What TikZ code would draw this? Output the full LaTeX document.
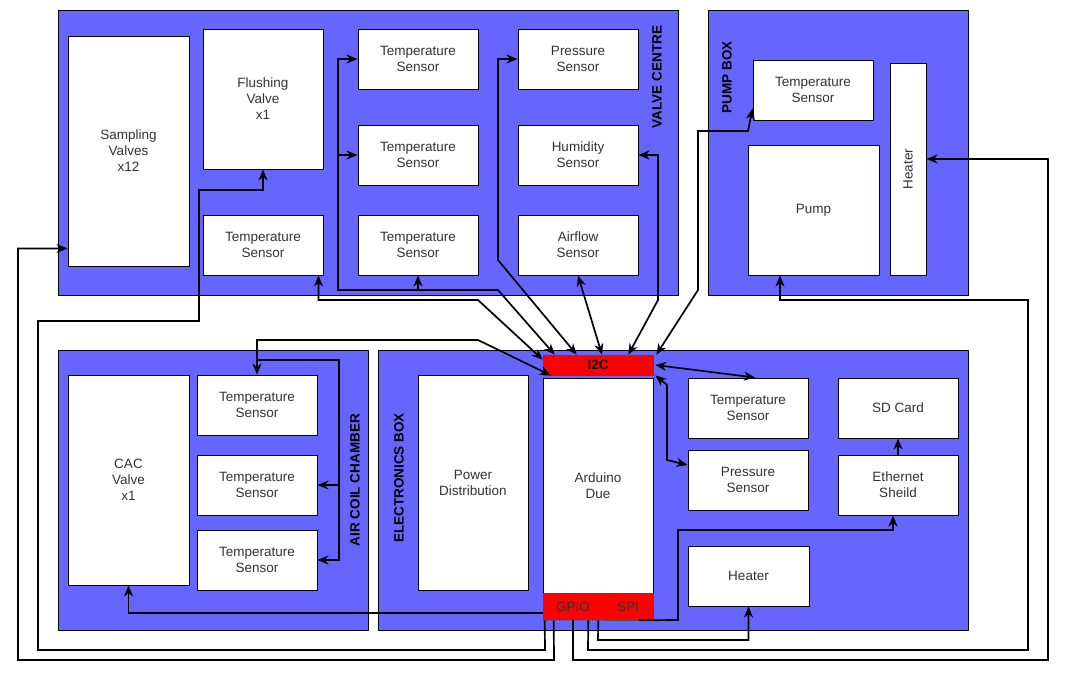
\documentclass[tikz,border=0pt]{standalone}
\usepackage{fontspec}
\setmainfont{Liberation Sans}
\usetikzlibrary{arrows.meta, calc}
\definecolor{boxblue}{HTML}{6666FF}
\definecolor{txt}{HTML}{333333}
\tikzstyle{container} = [rectangle, fill=boxblue, draw=black, line width=1pt, inner sep=0pt]
\tikzstyle{part} = [rectangle, fill=white, draw=black, line width=1pt, inner sep=0pt, align=center, text=txt, minimum width=120pt, minimum height=60pt]
\tikzstyle{boxlabel} = [rotate=90, text=black, font=\fontsize{13.5}{16}\selectfont\bfseries]
\tikzstyle{port} = [rectangle, fill=red, draw=black!70, line width=.6pt, inner sep=0pt, text=txt]
\tikzstyle{arrow} = [line width=1.7pt, ->, >={Stealth[length=11pt,width=9pt,inset=3.5pt]}]
\tikzstyle{biarrow} = [arrow, <->]

\begin{document}
\begin{tikzpicture}[x=1pt, y=-1pt, font=\fontsize{13.5}{16}\selectfont]
\useasboundingbox (0,0) rectangle (1068,680);

%Valve centre
\node(VC) at (368,152.5)[container, minimum width=620pt, minimum height=285pt]{};
\node at (657,77)[boxlabel]{VALVE CENTRE};
\node(sampling) at (128.5,151)[part, minimum width=121pt, minimum height=230pt]{Sampling\\Valves\\x12};
\node(flushing) at (263,99)[part, minimum height=140pt]{Flushing\\Valve\\x1};
\node(vcTempA) at (263,245)[part]{Temperature\\Sensor};
\node(vcTempB) at (418,59)[part]{Temperature\\Sensor};
\node(vcTempC) at (418,155)[part]{Temperature\\Sensor};
\node(vcTempD) at (418,245)[part]{Temperature\\Sensor};
\node(vcPres) at (578,59)[part]{Pressure\\Sensor};
\node(vcHum) at (578,155)[part]{Humidity\\Sensor};
\node(vcAir) at (578,245)[part]{Airflow\\Sensor};

%Pump box
\node(PB) at (838,152.5)[container, minimum width=260pt, minimum height=285pt]{};
\node at (727,77)[boxlabel]{PUMP BOX};
\node(pbTemp) at (813,90)[part]{Temperature\\Sensor};
\node(pump) at (813.5,210)[part, minimum width=131pt, minimum height=130pt]{Pump};
\node(pbHeater) at (908,169)[part, minimum width=36pt, minimum height=212pt]{};
\node at (pbHeater)[rotate=90, text=txt]{Heater};

%Air coil chamber
\node(ACC) at (213,490)[container, minimum width=310pt, minimum height=280pt]{};
\node at (355,480)[boxlabel]{AIR COIL CHAMBER};
\node(cac) at (128.5,480)[part, minimum width=121pt, minimum height=210pt]{CAC\\Valve\\x1};
\node(accTempA) at (257,405)[part]{Temperature\\Sensor};
\node(accTempB) at (257,485)[part]{Temperature\\Sensor};
\node(accTempC) at (257,560)[part]{Temperature\\Sensor};

%Electronics box
\node(EB) at (673,490)[container, minimum width=590pt, minimum height=280pt]{};
\node at (399,478)[boxlabel]{ELECTRONICS BOX};
\node(power) at (473,482.5)[part, minimum width=110pt, minimum height=215pt]{Power\\Distribution};
\node(arduino) at (598,485.5)[part, minimum width=110pt, minimum height=215pt]{Arduino\\Due};
\node(i2c) at (598,365)[port, minimum width=110pt, minimum height=20pt, text=black, font=\fontsize{13.5}{16}\selectfont\bfseries]{I2C};
\node(gpio) at (573,606.5)[port, minimum width=60pt, minimum height=27pt, dotted]{GPIO};
\node(spi) at (628,606.5)[port, minimum width=50pt, minimum height=27pt]{SPI};
\node(ebTemp) at (748,408)[part]{Temperature\\Sensor};
\node(ebPres) at (748,480)[part]{Pressure\\Sensor};
\node(sd) at (898,408)[part]{SD Card};
\node(eth) at (898,485)[part]{Ethernet\\Sheild};
\node(ebHeater) at (748.5,576)[part, minimum width=121pt]{Heater};

%I2C to valve centre
\draw[biarrow] ($(vcTempA.south east)+(-5,0)$) |- (478,300) -- ($(i2c.north west)+(0,5)$);
\coordinate(vcBus) at (338,290);
\draw[biarrow] ($(i2c.north west)+(12,0)$) -- (498,290) -- (vcBus) |- (vcTempB.west);
\draw[arrow] (vcBus) |- (vcTempC.west);
\draw[arrow] (vcTempD.south |- vcBus) -- (vcTempD.south);
\draw[biarrow] ($(i2c.north west)+(34,0)$) -- (498,260) |- (vcPres.west);
\draw[biarrow] ($(i2c.north)+(4,0)$) -- (vcAir.south);
\draw[biarrow] ($(i2c.north east)+(-25,0)$) -- (658,300) |- (vcHum.east);
%I2C to pump box
\draw[biarrow] ($(i2c.north east)+(3,0)$) -- (698,290) |- (748,131) -- ($(pbTemp.south west)+(0,-12)$);
%I2C to air coil chamber
\coordinate(accBus) at (339,360);
\draw[biarrow] ($(i2c.south west)+(8,0)$) -- (478,340) -| (accTempA.north);
\draw[arrow, line width=2.4pt] (accTempA.north |- accBus) -- (accBus) |- (accTempC.east);
\draw[arrow] (accBus |- accTempB.east) -- (accTempB.east);
%I2C and SPI inside the box
\draw[biarrow] ($(i2c.east)+(2,0)$) -- ($(ebTemp.north)+(7,0)$);
\draw[biarrow] ($(i2c.south east)+(2,0)$) -- (667,385) -- (667,460) -- ($(ebPres.west)+(0,-15)$);
\draw[arrow] (eth.north) -- (sd.south);
\draw[arrow] ($(spi.south east)+(-14,0)$) -- (678,620) |- (893,530) -- ($(eth.south)+(-5,0)$);

%GPIO
\draw[arrow] ($(gpio.west)+(0,6.5)$) -| (cac.south);
\draw[arrow] ($(gpio.south west)+(2,0)$) -- (545,650) -| (38,321) -| (199,190) -| (flushing.south);
\draw[arrow] ($(gpio.south west)+(11,0)$) -- (554,660) -- (18,660) |- ($(sampling.south west)+(0,-18)$);
\draw[arrow] (gpio.south) -- (573,660) -- (1048,660) |- ($(pbHeater.east)+(0,-10)$);
\draw[arrow] ($(gpio.south east)+(-15,0)$) -- (588,650) -- (1028,650) |- (780,300) -- ($(pump.south)+(-33.5,0)$);
\draw[arrow] ($(gpio.south east)+(-5,0)$) -- (598,640) -| (ebHeater.south);
\end{tikzpicture}
\end{document}
